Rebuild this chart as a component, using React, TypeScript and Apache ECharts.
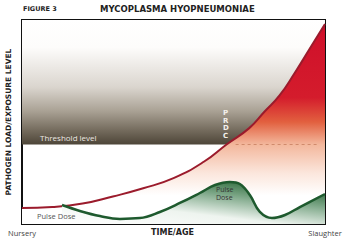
import React, { useEffect, useRef } from "react";
import * as echarts from "echarts";

const xTickLabels = ["Nursery", "Slaughter"];
const thresholdLevel = 39;
const redCurve: [number, number][] = [
  [0, 7.8], [10, 8.3], [20, 10], [30, 13.5], [40, 17.5], [50, 22.5], [60, 30.5],
  [67.5, 39], [75, 47], [80, 55], [85, 63], [90, 74], [95, 86], [100, 98],
];
const greenCurve: [number, number][] = [
  [13.2, 9.3], [19.1, 6.4], [25.7, 3.9], [32.3, 2.5], [38.9, 2.9], [45.5, 5.9],
  [52.1, 10.3], [58.7, 15.2], [63.7, 19.1], [68.6, 20.6], [71.9, 19.6], [75.2, 14.2],
  [78.5, 5.9], [82.5, 2.9], [86.8, 4.4], [91.7, 8.3], [100, 14.7],
];
const thresholdBand: [number, number][] = [[0, thresholdLevel], [100, thresholdLevel]];

const FONT = "Open Sans";

export default function App() {
  const ref = useRef<HTMLDivElement>(null);
  useEffect(() => {
    document.body.style.margin = "0";
    const chart = echarts.init(ref.current!, undefined, { renderer: "svg" });
    const redTop = 98;
    const t = (v: number) => (redTop - v) / redTop;
    chart.setOption({
      animation: false,
      backgroundColor: "#ffffff",
      grid: { left: 22, right: 25, top: 20, bottom: 23, show: true, borderColor: "#111", borderWidth: 2, backgroundColor: "transparent", outerBoundsMode: "none", containLabel: false },
      xAxis: {
        type: "value", min: 0, max: 100, interval: 100,
        axisLine: { show: false }, axisTick: { show: false }, splitLine: { show: false },
        axisLabel: {
          margin: 5, color: "#444", fontFamily: FONT, fontSize: 7.5,
          formatter: (v: number) => (v === 0 ? xTickLabels[0] : xTickLabels[1]),
        },
      },
      yAxis: {
        type: "value", min: 0, max: 100,
        axisLine: { show: false }, axisTick: { show: false }, splitLine: { show: false }, axisLabel: { show: false },
        name: "PATHOGEN LOAD/EXPOSURE LEVEL", nameLocation: "middle", nameGap: 10, nameRotate: 90,
        nameTextStyle: { fontFamily: "DejaVu Sans", fontWeight: "bold", fontSize: 7.5, color: "#222" },
      },
      series: [
        {
          type: "line", data: thresholdBand, symbol: "none", z: 1,
          lineStyle: { width: 0 },
          areaStyle: {
            origin: "end", opacity: 1,
            color: new echarts.graphic.LinearGradient(0, 0, 0, 1, [
              { offset: 0, color: "#ffffff" },
              { offset: 0.22, color: "#fdfcfb" },
              { offset: 0.54, color: "#dad5ce" },
              { offset: 0.73, color: "#aaa295" },
              { offset: 0.89, color: "#736a5c" },
              { offset: 1, color: "#4d4538" },
            ]),
          },
        },
        {
          type: "line", data: redCurve, symbol: "none", smooth: true, z: 2,
          lineStyle: { color: "#9b1b2c", width: 2 },
          areaStyle: {
            opacity: 1,
            color: new echarts.graphic.LinearGradient(0, 0, 0, 1, [
              { offset: 0, color: "#cf0f2a" },
              { offset: t(62), color: "#d41c2c" },
              { offset: t(50), color: "#e2603f" },
              { offset: t(thresholdLevel), color: "#f3b79c" },
              { offset: t(25), color: "#fbe6dc" },
              { offset: t(14), color: "#ffffff" },
              { offset: 1, color: "#ffffff" },
            ]),
          },
          markLine: {
            silent: true, symbol: "none", label: { show: false },
            lineStyle: { type: [3, 3], color: "#d08a6c", width: 1 },
            data: [[{ coord: [70.5, thresholdLevel] }, { coord: [97.5, thresholdLevel] }]],
          },
        },
        {
          type: "line", data: greenCurve, symbol: "none", smooth: 0.4, z: 3,
          lineStyle: { color: "#1e5a2e", width: 2.5 },
          areaStyle: {
            opacity: 1,
            color: new echarts.graphic.LinearGradient(0, 1, 0.75, 0, [
              { offset: 0, color: "#ffffff" },
              { offset: 0.4, color: "#eef4ef" },
              { offset: 0.75, color: "#7aa585" },
              { offset: 1, color: "#2f6b3c" },
            ]),
          },
        },
      ],
      graphic: [
        { type: "text", z: 100, left: 23, top: 5, style: { text: "FIGURE 3", font: "bold 6.5px 'DejaVu Sans'", fill: "#222" } },
        { type: "text", z: 100, left: 100, top: 4, style: { text: "MYCOPLASMA HYOPNEUMONIAE", font: "bold 8.5px 'DejaVu Sans'", fill: "#222" } },
        { type: "text", z: 100, left: 151, top: 228, style: { text: "TIME/AGE", font: "bold 8px 'DejaVu Sans'", fill: "#222" } },
        { type: "text", z: 100, left: 40, top: 133, style: { text: "Threshold level", font: `8px '${FONT}'`, fill: "#ece8e2" } },
        { type: "text", z: 100, left: 223, top: 109, style: { text: "P\nR\nD\nC", font: "bold 7px 'DejaVu Sans'", fill: "#f4f1ec", lineHeight: 7.7 } },
        { type: "text", z: 100, left: 37, top: 212, style: { text: "Pulse Dose", font: `7.5px '${FONT}'`, fill: "#555" } },
        { type: "text", z: 100, left: 216, top: 186, style: { text: "Pulse", font: `7px '${FONT}'`, fill: "#333" } },
        { type: "text", z: 100, left: 216, top: 194, style: { text: "Dose", font: `7px '${FONT}'`, fill: "#333" } },
      ],
    });
    return () => chart.dispose();
  }, []);
  return <div ref={ref} style={{ width: 350, height: 247 }} />;
}
